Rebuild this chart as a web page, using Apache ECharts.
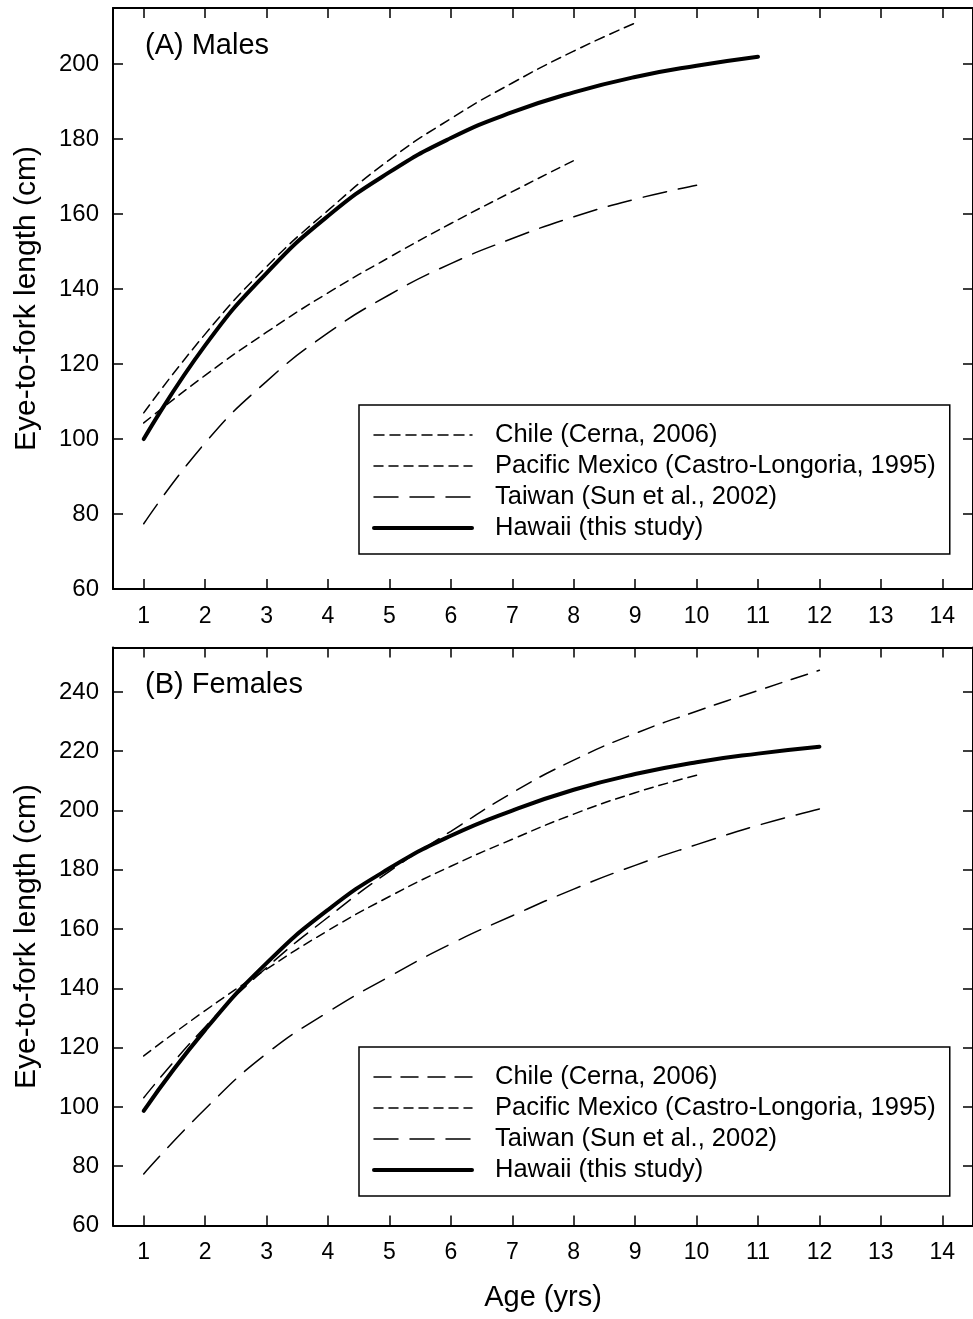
<!DOCTYPE html>
<html>
<head>
<meta charset="utf-8">
<script src="https://cdn.jsdelivr.net/npm/echarts@6/dist/echarts.min.js"></script>
<style>html,body{margin:0;padding:0;background:#fff}#c{width:973px;height:1319px}</style>
</head>
<body>
<div id="c"></div>
<script>
// ---- Data ----
const ageTicks = [1,2,3,4,5,6,7,8,9,10,11,12,13,14];
const yTicksMales = [60,80,100,120,140,160,180,200];
const yTicksFemales = [60,80,100,120,140,160,180,200,220,240];

const agesMalesChile = [1,2,3,4,5,6,7,8,9];
const malesChile = [107,128,146,161,174.5,185.5,195,203.5,211];
const agesMalesMexico = [1,2,3,4,5,6,7,8];
const malesMexico = [104.3,117,128.5,139,148.5,157.5,166,174.3];
const agesMalesTaiwan = [1,2,3,4,5,6,7,8,9,10];
const malesTaiwan = [77.4,99,115.4,128.3,138.5,146.8,153.5,159.3,164,167.7];
const agesMalesHawaii = [1,2,3,4,5,6,7,8,9,10,11];
const malesHawaii = [100,125,144.3,159.5,171.2,180.3,187.2,192.5,196.6,199.6,202];

const agesFemalesChile = [1,2,3,4,5,6,7,8,9,10,11,12];
const femalesChile = [103.1,127,147,164,179.5,193,206,217,226,233.5,240.5,247.3];
const agesFemalesMexico = [1,2,3,4,5,6,7,8,9,10];
const femalesMexico = [117.2,132.5,146.5,159.5,171,181.2,190.3,198.8,206,211.9];
const agesFemalesTaiwan = [1,2,3,4,5,6,7,8,9,10,11,12];
const femalesTaiwan = [77.4,99.3,118,132,144,155,164.5,173.5,181.5,188.5,195,200.5];
const agesFemalesHawaii = [1,2,3,4,5,6,7,8,9,10,11,12];
const femalesHawaii = [98.7,126,148.5,166.5,180.5,191.5,200,207,212.3,216.3,219.2,221.5];

const legendNames = ['Chile (Cerna, 2006)','Pacific Mexico (Castro-Longoria, 1995)','Taiwan (Sun et al., 2002)','Hawaii (this study)'];

// ---- Chart ----
const FONT = 'Liberation Sans, Arial, Helvetica, sans-serif';
const pairs = (xs, ys) => ys.map((v, i) => [xs[i], v]);

const chart = echarts.init(document.getElementById('c'), null, {renderer: 'canvas'});

function xAxisPair(gridIndex, withName) {
  return [
    {
      type: 'value', gridIndex, position: 'bottom', min: 0.5, max: 14.5,
      axisLine: {show: true, lineStyle: {color: '#000', width: 2}},
      axisTick: {show: true, inside: true, length: 10, customValues: ageTicks, lineStyle: {color: '#000', width: 1.5}},
      axisLabel: {show: true, customValues: ageTicks, margin: 16, color: '#000', fontSize: 23, fontFamily: FONT},
      splitLine: {show: false},
      name: withName ? 'Age (yrs)' : '', nameLocation: 'middle', nameGap: 58,
      nameTextStyle: {color: '#000', fontSize: 29, fontFamily: FONT}
    },
    {
      type: 'value', gridIndex, position: 'top', min: 0.5, max: 14.5,
      axisLine: {show: true, lineStyle: {color: '#000', width: 2}},
      axisTick: {show: true, inside: true, length: 10, customValues: ageTicks, lineStyle: {color: '#000', width: 1.5}},
      axisLabel: {show: false}, splitLine: {show: false}
    }
  ];
}
function yAxisPair(gridIndex, min, max, ticks) {
  return [
    {
      type: 'value', gridIndex, position: 'left', min, max,
      axisLine: {show: true, lineStyle: {color: '#000', width: 2}},
      axisTick: {show: true, inside: true, length: 10, customValues: ticks, lineStyle: {color: '#000', width: 1.5}},
      axisLabel: {show: true, customValues: ticks, margin: 14, color: '#000', fontSize: 24, fontFamily: FONT},
      splitLine: {show: false},
      name: 'Eye-to-fork length (cm)', nameLocation: 'middle', nameGap: 71,
      nameTextStyle: {color: '#000', fontSize: 30, fontFamily: FONT}
    },
    {
      type: 'value', gridIndex, position: 'right', min, max,
      axisLine: {show: true, lineStyle: {color: '#000', width: 2}},
      axisTick: {show: true, inside: true, length: 10, customValues: ticks, lineStyle: {color: '#000', width: 1.5}},
      axisLabel: {show: false}, splitLine: {show: false}
    }
  ];
}

function mkSeries(prefix, name, xs, ys, xi, yi, width, dash) {
  return {
    type: 'line', name: prefix + name, xAxisIndex: xi, yAxisIndex: yi,
    data: pairs(xs, ys), smooth: true, symbol: 'none', silent: true,
    lineStyle: {color: '#000', width, type: dash, cap: 'round'},
    itemStyle: {color: '#000'}
  };
}

const dashA = [[10, 6], [9, 6], [24, 12], 'solid'];
const dashB = [[17, 10], [9, 6], [24, 12], 'solid'];
const widths = [1.5, 1.5, 1.5, 4];

function mkLegend(prefix, top, dashes) {
  return {
    orient: 'vertical', left: 359, top,
    data: legendNames.map((n, i) => ({
      name: prefix + n,
      itemStyle: {opacity: 0, borderWidth: 0},
      lineStyle: {color: '#000', width: widths[i], type: dashes[i]}
    })),
    formatter: n => n.slice(prefix.length),
    itemWidth: 98, itemHeight: 14, itemGap: 5, selectedMode: false,
    padding: [17, 14, 13, 13],
    borderColor: '#000', borderWidth: 1.5, backgroundColor: '#fff',
    textStyle: {color: '#000', fontSize: 25.5, lineHeight: 25.5, fontFamily: FONT, padding: [0, 0, 0, 18]}
  };
}

const option = {
  animation: false,
  backgroundColor: '#fff',
  title: [
    {text: '(A) Males', left: 145, top: 31, padding: 0, textStyle: {color: '#000', fontSize: 29, fontWeight: 'normal', fontFamily: FONT}},
    {text: '(B) Females', left: 145, top: 670, padding: 0, textStyle: {color: '#000', fontSize: 29, fontWeight: 'normal', fontFamily: FONT}}
  ],
  grid: [
    {left: 113, top: 8, width: 867, height: 581},
    {left: 113, top: 647.5, width: 867, height: 578}
  ],
  xAxis: [...xAxisPair(0, false), ...xAxisPair(1, true)],
  yAxis: [...yAxisPair(0, 60, 215, yTicksMales), ...yAxisPair(1, 60, 255, yTicksFemales)],
  legend: [mkLegend('A|', 405, dashA), mkLegend('B|', 1047, dashB)],
  series: [
    mkSeries('A|', legendNames[0], agesMalesChile, malesChile, 0, 0, widths[0], dashA[0]),
    mkSeries('A|', legendNames[1], agesMalesMexico, malesMexico, 0, 0, widths[1], dashA[1]),
    mkSeries('A|', legendNames[2], agesMalesTaiwan, malesTaiwan, 0, 0, widths[2], dashA[2]),
    mkSeries('A|', legendNames[3], agesMalesHawaii, malesHawaii, 0, 0, widths[3], dashA[3]),
    mkSeries('B|', legendNames[0], agesFemalesChile, femalesChile, 2, 2, widths[0], dashB[0]),
    mkSeries('B|', legendNames[1], agesFemalesMexico, femalesMexico, 2, 2, widths[1], dashB[1]),
    mkSeries('B|', legendNames[2], agesFemalesTaiwan, femalesTaiwan, 2, 2, widths[2], dashB[2]),
    mkSeries('B|', legendNames[3], agesFemalesHawaii, femalesHawaii, 2, 2, widths[3], dashB[3])
  ]
};
chart.setOption(option);
</script>
</body>
</html>
